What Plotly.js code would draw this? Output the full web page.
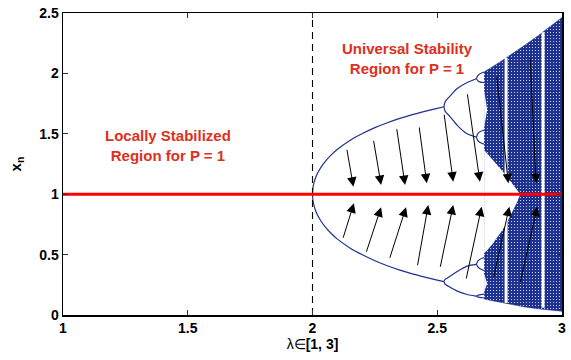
<!DOCTYPE html>
<html>
<head>
<meta charset="utf-8">
<script src="https://cdn.plot.ly/plotly-3.0.1.min.js"></script>
<style>html,body{margin:0;padding:0;background:#fff;}#chart{width:571px;height:360px;}</style>
</head>
<body>
<div id="chart"></div>
<script>
// ---------- data ----------
const lambdaRange = [1, 3];
const fixedPoint = 1;
const bifurcationLambda = 2;

const xTickVals = [1, 1.5, 2, 2.5, 3];
const xTickText = ['1', '1.5', '2', '2.5', '3'];
const yTickVals = [0, 0.5, 1, 1.5, 2, 2.5];
const yTickText = ['0', '0.5', '1', '1.5', '2', '2.5'];

// period-2 branch
const period2Lambda = [2.0, 2.002, 2.005, 2.01, 2.02, 2.035, 2.05, 2.075, 2.1, 2.15, 2.2, 2.25, 2.3, 2.35, 2.4, 2.45, 2.5, 2.527];
const period2Upper  = [1.0, 1.055, 1.087, 1.122, 1.173, 1.226, 1.268, 1.325, 1.372, 1.445, 1.502, 1.551, 1.592, 1.628, 1.659, 1.686, 1.711, 1.724];
const period2Lower  = [1.0, 0.945, 0.913, 0.878, 0.827, 0.774, 0.732, 0.675, 0.628, 0.555, 0.498, 0.449, 0.408, 0.372, 0.341, 0.314, 0.289, 0.276];

// period-4 branches
const period4Lambda = [2.527, 2.53, 2.535, 2.55, 2.58, 2.62, 2.65, 2.657];
const period4UU = [1.724, 1.755, 1.777, 1.81, 1.875, 1.925, 1.95, 1.958];
const period4UL = [1.724, 1.695, 1.677, 1.645, 1.57, 1.50, 1.477, 1.472];
const period4LU = [0.276, 0.292, 0.30, 0.318, 0.36, 0.405, 0.417, 0.42];
const period4LL = [0.276, 0.26, 0.25, 0.231, 0.198, 0.170, 0.159, 0.156];

// period-8 branches (pairs)
const period8Lambda = [2.657, 2.662, 2.67, 2.68, 2.688];
const period8 = {
  uuHi: [1.958, 1.98, 1.995, 2.005, 2.01],  uuLo: [1.958, 1.94, 1.93, 1.925, 1.925],
  ulHi: [1.472, 1.50, 1.515, 1.525, 1.53],  ulLo: [1.472, 1.445, 1.43, 1.42, 1.415],
  luHi: [0.42, 0.445, 0.46, 0.47, 0.475],   luLo: [0.42, 0.40, 0.385, 0.375, 0.37],
  llHi: [0.156, 0.163, 0.167, 0.17, 0.172], llLo: [0.156, 0.150, 0.146, 0.143, 0.141]
};

// chaotic region envelope
const chaosLambda = [2.688, 2.70, 2.72, 2.75, 2.78, 2.80, 2.82, 2.833, 2.85, 2.90, 2.95, 3.0];
const chaosTop    = [2.013, 2.027, 2.053, 2.093, 2.133, 2.161, 2.189, 2.207, 2.232, 2.306, 2.383, 2.463];
const chaosBottom = [0.133, 0.1265, 0.117, 0.104, 0.0914, 0.0837, 0.0767, 0.0732, 0.0667, 0.0523, 0.0403, 0.0306];

// empty gap between the two chaotic bands
const gapLambda = [2.688, 2.70, 2.72, 2.75, 2.76, 2.78, 2.80, 2.82, 2.833];
const gapTop    = [1.365, 1.338, 1.2925, 1.218, 1.194, 1.143, 1.089, 1.036, 1.0];
const gapBottom = [0.512, 0.537, 0.583, 0.669, 0.699, 0.768, 0.849, 0.936, 1.0];

// small gaps of the 4-band regime
const gap4Lambda = [2.688, 2.688, 2.70];
const gap4Upper  = [1.55, 1.86, 1.70];
const gap4Lower  = [0.19, 0.34, 0.26];

// periodic windows (white stripes)
const windowLambda = [2.776, 2.924];
const windowLow    = [0.10, 0.06];
const windowHigh   = [2.13, 2.34];

// arrows: tail -> head
const downTailX = [2.137, 2.244, 2.337, 2.427, 2.527, 2.620, 2.738, 2.872];
const downTailY = [1.380, 1.454, 1.551, 1.565, 1.670, 1.840, 1.987, 2.138];
const downHeadX = [2.164, 2.275, 2.371, 2.458, 2.564, 2.671, 2.785, 2.896];
const downHeadY = [1.062, 1.076, 1.076, 1.090, 1.104, 1.104, 1.090, 1.090];
const upTailX = [2.121, 2.214, 2.308, 2.420, 2.511, 2.615, 2.725, 2.832];
const upTailY = [0.627, 0.511, 0.461, 0.400, 0.387, 0.290, 0.304, 0.262];
const upHeadX = [2.166, 2.275, 2.375, 2.464, 2.564, 2.678, 2.789, 2.901];
const upHeadY = [0.925, 0.892, 0.892, 0.911, 0.911, 0.897, 0.897, 0.897];

const labelLeft  = {text: 'Locally Stabilized<br>Region for P = 1', x: 1.419, y: 1.407};
const labelRight = {text: 'Universal Stability<br>Region for P = 1', x: 2.379, y: 2.127};

// ---------- drawing ----------
const NAVY = '#1d3290';
const FONT = 'Liberation Sans, Arial, Helvetica, sans-serif';
const traces = [];

function polygon(xs, top, bottom) {
  return {
    x: xs.concat(xs.slice().reverse()),
    y: top.concat(bottom.slice().reverse())
  };
}

const env = polygon(chaosLambda, chaosTop, chaosBottom);
traces.push({
  type: 'scatter', mode: 'lines', x: env.x, y: env.y, fill: 'toself',
  fillcolor: NAVY, line: {width: 0.5, color: NAVY},
  fillpattern: {shape: '.', bgcolor: NAVY, fgcolor: '#ffffff', size: 3, solidity: 0.1},
  hoverinfo: 'skip'
});
const gp = polygon(gapLambda, gapTop, gapBottom);
traces.push({type: 'scatter', mode: 'lines', x: gp.x, y: gp.y, fill: 'toself',
  fillcolor: '#ffffff', line: {width: 0}, hoverinfo: 'skip'});
[gap4Upper, gap4Lower].forEach(g => traces.push({type: 'scatter', mode: 'lines',
  x: gap4Lambda, y: g, fill: 'toself', fillcolor: '#ffffff', line: {width: 0}, hoverinfo: 'skip'}));

windowLambda.forEach((w, i) => traces.push({type: 'scatter', mode: 'lines',
  x: [w, w], y: [windowLow[i], windowHigh[i]], line: {color: '#ffffff', width: 3}, hoverinfo: 'skip'}));

function branch(xs, ys) {
  traces.push({type: 'scatter', mode: 'lines', x: xs, y: ys,
    line: {color: NAVY, width: 1.2, shape: 'spline', smoothing: 0.6}, hoverinfo: 'skip'});
}
branch(period2Lambda, period2Upper);
branch(period2Lambda, period2Lower);
[period4UU, period4UL, period4LU, period4LL].forEach(b => branch(period4Lambda, b));
Object.keys(period8).forEach(k => branch(period8Lambda, period8[k]));

traces.push({type: 'scatter', mode: 'lines', x: [bifurcationLambda, bifurcationLambda], y: [0, 2.5],
  line: {color: '#000000', width: 1.1, dash: '7px,5px'}, hoverinfo: 'skip'});
traces.push({type: 'scatter', mode: 'lines', x: lambdaRange, y: [fixedPoint, fixedPoint],
  line: {color: '#ff0000', width: 3}, hoverinfo: 'skip'});

const annotations = [];
function arrow(tx, ty, hx, hy) {
  annotations.push({x: hx, y: hy, ax: tx, ay: ty, xref: 'x', yref: 'y', axref: 'x', ayref: 'y',
    showarrow: true, arrowhead: 2, arrowsize: 1.9, arrowwidth: 1, arrowcolor: '#000000', text: ''});
}
downTailX.forEach((_, i) => arrow(downTailX[i], downTailY[i], downHeadX[i], downHeadY[i]));
upTailX.forEach((_, i) => arrow(upTailX[i], upTailY[i], upHeadX[i], upHeadY[i]));
[labelLeft, labelRight].forEach(l => annotations.push({x: l.x, y: l.y, xref: 'x', yref: 'y',
  text: l.text, showarrow: false, align: 'center',
  font: {family: FONT, size: 15, color: '#dd3020', weight: 'bold'}}));

const axisCommon = {
  showgrid: false, zeroline: false, showline: true, linecolor: '#000000', linewidth: 1.5,
  ticks: 'inside', ticklen: 5, tickwidth: 1, tickcolor: '#333333', mirror: 'ticks',
  tickfont: {family: FONT, size: 14, color: '#000000', weight: 'bold'}
};

const layout = {
  width: 571, height: 360,
  margin: {l: 63, r: 9, t: 13, b: 45, pad: 0},
  paper_bgcolor: '#ffffff', plot_bgcolor: '#ffffff',
  showlegend: false,
  xaxis: Object.assign({}, axisCommon, {
    range: lambdaRange, tickvals: xTickVals, ticktext: xTickText,
    title: {text: 'λ∈<b>[1, 3]</b>', standoff: 2, font: {family: FONT, size: 14, color: '#000000'}}
  }),
  yaxis: Object.assign({}, axisCommon, {
    range: [0, 2.5], tickvals: yTickVals, ticktext: yTickText,
    title: {text: '<b>x<sub>n</sub></b>', standoff: 14, font: {family: FONT, size: 15, color: '#000000'}}
  }),
  annotations: annotations
};

Plotly.newPlot('chart', traces, layout, {staticPlot: true, displayModeBar: false});
</script>
</body>
</html>
